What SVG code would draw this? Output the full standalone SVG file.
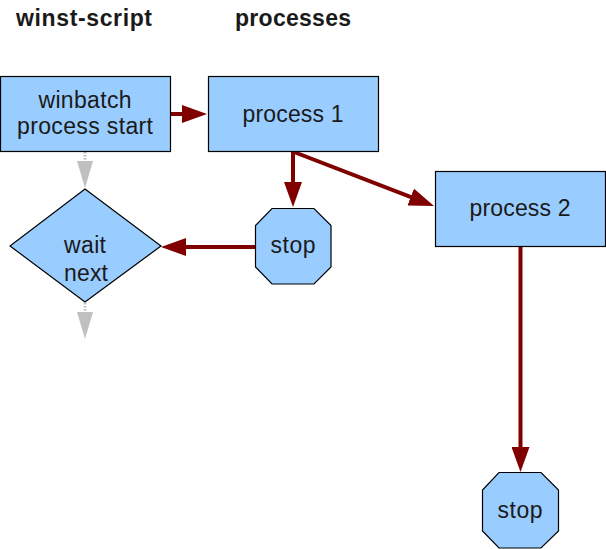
<svg xmlns="http://www.w3.org/2000/svg" width="606" height="549" viewBox="0 0 606 549">
<style>
.n{fill:#99ccff;stroke:#000;stroke-width:1.2}
.t{font-family:"Liberation Sans",Arial,sans-serif;font-size:23px;fill:#1a1a1a;text-anchor:middle}
.h{font-family:"Liberation Sans",Arial,sans-serif;font-size:23px;font-weight:bold;fill:#1a1a1a}
.r{stroke:#800000;stroke-width:4;fill:none}
.g{stroke:#c0c0c0;stroke-width:3;stroke-dasharray:1.5 1.5;fill:none}
</style>
<defs>
<marker id="ar" markerUnits="userSpaceOnUse" markerWidth="25" markerHeight="18" refX="15" refY="9" orient="auto">
<path d="M0,0 L25,9 L0,18 z" fill="#800000"/>
</marker>
<marker id="ag" markerUnits="userSpaceOnUse" markerWidth="27" markerHeight="16" refX="17" refY="8" orient="auto">
<path d="M0,0 L27,8 L0,16 z" fill="#c0c0c0"/>
</marker>
</defs>
<rect width="606" height="549" fill="#fff"/>
<g id="titles">
<text class="h" x="16" y="26" textLength="136" lengthAdjust="spacing">winst-script</text>
<text class="h" x="235" y="26" textLength="116" lengthAdjust="spacing">processes</text>
</g>
<g id="connectors">
<line class="g" x1="85" y1="152" x2="85" y2="178" marker-end="url(#ag)"/>
<line class="g" x1="85" y1="303" x2="85" y2="329" marker-end="url(#ag)"/>
<line class="r" x1="171" y1="114" x2="197" y2="114" marker-end="url(#ar)"/>
<line class="r" x1="293" y1="151" x2="293" y2="197" marker-end="url(#ar)"/>
<line class="r" x1="294" y1="152" x2="424.7" y2="202.4" marker-end="url(#ar)"/>
<line class="r" x1="255" y1="247" x2="171" y2="247" marker-end="url(#ar)"/>
<line class="r" x1="520.5" y1="247" x2="520.5" y2="462" marker-end="url(#ar)"/>
</g>
<g id="winbatch">
<rect class="n" x="0.5" y="76.5" width="170" height="75"/>
<text class="t" x="85" y="108" textLength="93" lengthAdjust="spacing">winbatch</text>
<text class="t" x="85" y="134" textLength="136" lengthAdjust="spacing">process start</text>
</g>
<g id="process1">
<rect class="n" x="208.5" y="76.5" width="170" height="75"/>
<text class="t" x="293" y="122" textLength="101" lengthAdjust="spacing">process 1</text>
</g>
<g id="process2">
<rect class="n" x="435.5" y="171.5" width="170" height="75"/>
<text class="t" x="520" y="216" textLength="101" lengthAdjust="spacing">process 2</text>
</g>
<g id="wait">
<path class="n" d="M85,189 L161,246 L85,302 L10,246 Z"/>
<text class="t" x="85" y="253" textLength="42" lengthAdjust="spacing">wait</text>
<text class="t" x="86" y="281" textLength="44" lengthAdjust="spacing">next</text>
</g>
<g id="stop1">
<path class="n" d="M272,208.5 L314,208.5 L331,225.5 L331,267 L314,284 L272,284 L255.5,267 L255.5,225.5 Z"/>
<text class="t" x="293" y="253" textLength="45" lengthAdjust="spacing">stop</text>
</g>
<g id="stop2">
<path class="n" d="M499,472.5 L541,472.5 L558.5,490 L558.5,531 L541,548 L499,548 L482.5,531 L482.5,490 Z"/>
<text class="t" x="520" y="518" textLength="45" lengthAdjust="spacing">stop</text>
</g>
</svg>
